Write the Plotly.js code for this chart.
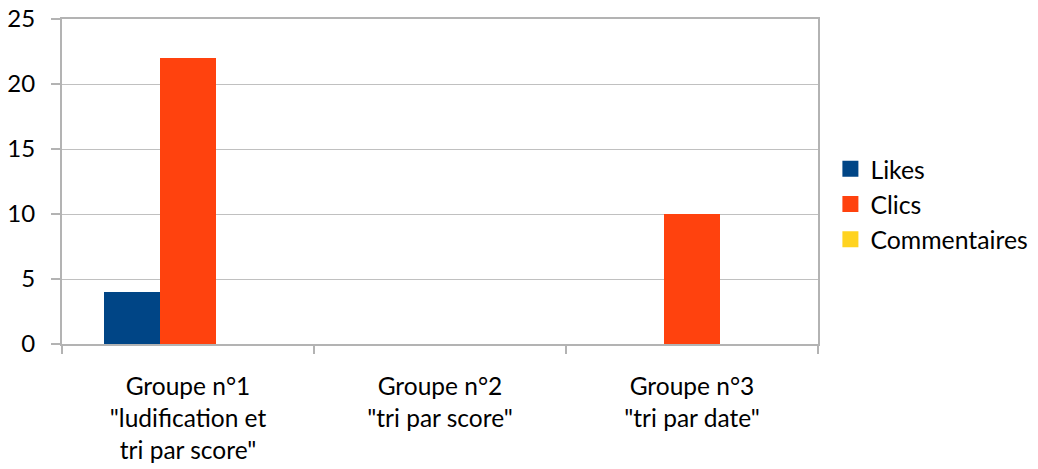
<!DOCTYPE html>
<html>
<head>
<meta charset="utf-8">
<script src="https://cdn.plot.ly/plotly-3.0.1.min.js"></script>
<style>
html,body{margin:0;padding:0;background:#fff;}
#chart{width:1038px;height:469px;}
</style>
</head>
<body>
<div id="chart"></div>
<script>
const categories = ['Groupe n°1<br>"ludification et<br>tri par score"', 'Groupe n°2<br>"tri par score"', 'Groupe n°3<br>"tri par date"'];
const seriesNames = ['Likes', 'Clics', 'Commentaires'];
const likes = [4, 0, 0];
const clics = [22, 0, 10];
const commentaires = [0, 0, 0];
const colors = ['#004586', '#ff420e', '#ffd320'];
const yTicks = [0, 5, 10, 15, 20, 25];

const seriesValues = [likes, clics, commentaires];
const traces = [];
seriesValues.forEach((vals, i) => {
  traces.push({
    type: 'bar', x: categories, y: vals, name: seriesNames[i],
    marker: {color: colors[i], line: {width: 0}},
    showlegend: false, hoverinfo: 'skip'
  });
});
seriesValues.forEach((vals, i) => {
  traces.push({
    type: 'scatter', mode: 'markers', x: [null], y: [null], name: seriesNames[i],
    marker: {symbol: 'square', size: 16, color: colors[i]},
    showlegend: true
  });
});

const font = {family: 'Lato, Carlito, sans-serif', size: 24, color: '#000'};
const layout = {
  width: 1038, height: 469,
  margin: {l: 62, r: 220, t: 19, b: 125, autoexpand: false},
  paper_bgcolor: '#fff', plot_bgcolor: '#fff',
  font: font,
  barmode: 'group', bargap: 0.3333, bargroupgap: 0,
  showlegend: true,
  legend: {xref: 'container', x: 0.8, xanchor: 'left', y: 0.43, yanchor: 'middle', font: {family: font.family, size: 24.8, color: '#000'}, tracegroupgap: 0, bgcolor: 'rgba(0,0,0,0)'},
  xaxis: {
    type: 'category', showgrid: false, showline: true, linecolor: '#b3b3b3', linewidth: 2, mirror: true,
    ticks: 'outside', tickson: 'boundaries', ticklen: 8, tickcolor: '#b3b3b3', tickwidth: 2,
    tickfont: {family: font.family, size: 24.5, color: '#000'}, ticklabelstandoff: 20, zeroline: false
  },
  yaxis: {
    range: [0, 25], tickvals: yTicks, showgrid: true, gridcolor: '#c0c0c0', gridwidth: 1,
    showline: true, linecolor: '#b3b3b3', linewidth: 2, mirror: true,
    ticks: 'outside', ticklen: 9, tickcolor: '#b3b3b3', tickwidth: 2,
    tickfont: font, ticklabelstandoff: 11, zeroline: false
  }
};
Plotly.newPlot('chart', traces, layout, {displayModeBar: false, staticPlot: true});
</script>
</body>
</html>
